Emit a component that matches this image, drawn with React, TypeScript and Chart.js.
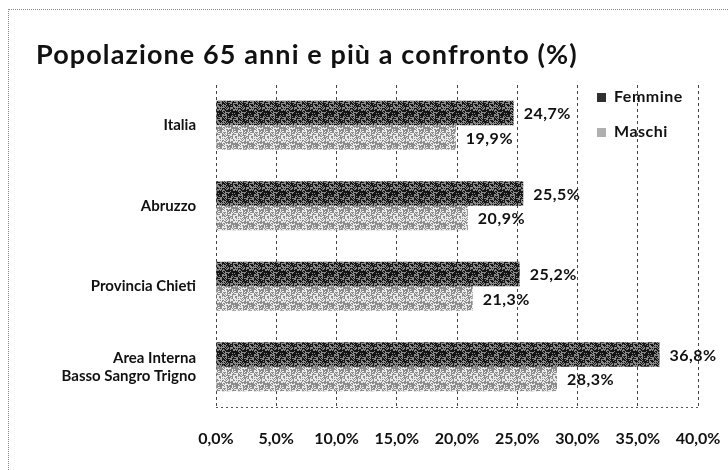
import React, { useEffect, useRef } from "react";
import { Chart, registerables } from "chart.js";

Chart.register(...registerables);

const categories: (string | string[])[] = [
  "Italia",
  "Abruzzo",
  "Provincia Chieti",
  ["Area Interna", "Basso Sangro Trigno"],
];
const femmine = [24.7, 25.5, 25.2, 36.8];
const maschi = [19.9, 20.9, 21.3, 28.3];
const seriesNames = ["Femmine", "Maschi"];
const titleText = "Popolazione 65 anni e più a confronto (%)";
const xMin = 0;
const xMax = 40;
const xStep = 5;

const FONT = "Lato, 'Open Sans', sans-serif";
const fmt = (v: number) => v.toFixed(1).replace(".", ",") + "%";

function makePattern(dark: string, light: string, share: number) {
  const c = document.createElement("canvas");
  c.width = 16;
  c.height = 16;
  const g = c.getContext("2d")!;
  g.fillStyle = light;
  g.fillRect(0, 0, 16, 16);
  g.fillStyle = dark;
  for (let y = 0; y < 16; y++) {
    for (let x = 0; x < 16; x++) {
      const h = ((x * 73856093) ^ (y * 19349663)) >>> 0;
      if ((h % 100) / 100 < share) g.fillRect(x, y, 1, 1);
    }
  }
  return g.createPattern(c, "repeat");
}

export default function App() {
  const ref = useRef<HTMLCanvasElement | null>(null);
  useEffect(() => {
    const canvas = ref.current;
    if (!canvas) return;
    const patF = makePattern("#151515", "#8a8a8a", 0.6);
    const patM = makePattern("#8c8c8c", "#ececec", 0.55);
    const legendColors = ["#303030", "#b0b0b0"];

    const overlay = {
      id: "overlay",
      beforeDatasetsDraw(chart: any) {
        const ctx = chart.ctx;
        const a = chart.chartArea;
        ctx.save();
        ctx.strokeStyle = "#555";
        ctx.lineWidth = 1;
        ctx.setLineDash([2, 3]);
        ctx.beginPath();
        ctx.moveTo(a.left, Math.round(a.bottom) + 0.5);
        ctx.lineTo(a.right, Math.round(a.bottom) + 0.5);
        ctx.stroke();
        ctx.restore();
      },
      afterDatasetsDraw(chart: any) {
        const ctx = chart.ctx;
        ctx.save();
        // title
        ctx.fillStyle = "#111";
        ctx.font = `bold 27px ${FONT}`;
        (ctx as any).letterSpacing = "1.1px";
        ctx.textAlign = "left";
        ctx.textBaseline = "middle";
        ctx.fillText(titleText, 36, 55);
        (ctx as any).letterSpacing = "0.5px";
        // data labels
        ctx.font = `bold 16px ${FONT}`;
        chart.data.datasets.forEach((ds: any, di: number) => {
          const meta = chart.getDatasetMeta(di);
          meta.data.forEach((el: any, i: number) => {
            ctx.fillStyle = "#111";
            ctx.textAlign = "left";
            ctx.fillText(fmt(ds.data[i]), el.x + 10, el.y + (di === 0 ? 1 : 1));
          });
        });
        // legend
        chart.data.datasets.forEach((ds: any, di: number) => {
          const y = 97 + di * 35;
          ctx.fillStyle = legendColors[di];
          ctx.fillRect(597, y - 4, 9, 9);
          ctx.fillStyle = "#111";
          ctx.textAlign = "left";
          ctx.fillText(ds.label, 614, y);
        });
        ctx.restore();
      },
    };

    const chart = new Chart(canvas, {
      type: "bar",
      data: {
        labels: categories,
        datasets: [
          { label: seriesNames[0], data: femmine, backgroundColor: patF as any },
          { label: seriesNames[1], data: maschi, backgroundColor: patM as any },
        ],
      },
      options: {
        indexAxis: "y",
        animation: false,
        responsive: false,
        maintainAspectRatio: false,
        layout: { padding: { top: 85, right: 30, left: 0, bottom: 0 } },
        datasets: { bar: { categoryPercentage: 0.61, barPercentage: 1 } },
        plugins: {
          legend: { display: false },
          title: { display: false },
          tooltip: { enabled: false },
        },
        scales: {
          x: {
            min: xMin,
            max: xMax,
            ticks: {
              stepSize: xStep,
              callback: (v: any) => fmt(Number(v)),
              color: "#111",
              font: { family: FONT, weight: "bold", size: 16 },
              padding: 22,
            },
            grid: {
              color: "#444",
              lineWidth: 1,
              drawTicks: false,
            },
            border: { display: false, dash: [3, 3] },
            afterFit: (s: any) => {
              s.height = 63;
              s.paddingRight = 0;
              s.paddingLeft = 0;
            },
          } as any,
          y: {
            ticks: {
              color: "#111",
              font: { family: FONT, weight: "bold", size: 15 },
              padding: 20,
            },
            grid: { display: false, drawTicks: false },
            border: { display: false },
            afterFit: (s: any) => {
              s.width = 216;
              s.paddingTop = 0;
              s.paddingBottom = 0;
            },
          } as any,
        },
      } as any,
      plugins: [overlay],
    });
    return () => chart.destroy();
  }, []);

  return (
    <div
      style={{
        position: "absolute",
        left: 0,
        top: 0,
        width: 728,
        height: 470,
        background: "#fff",
      }}
    >
      <div
        style={{
          position: "absolute",
          left: 8,
          top: 9,
          width: 720,
          height: 461,
          borderTop: "1px dotted #888",
          borderLeft: "1px dotted #888",
          boxSizing: "border-box",
        }}
      />
      <canvas
        ref={ref}
        width={728}
        height={470}
        style={{ position: "absolute", left: 0, top: 0 }}
      />
    </div>
  );
}
